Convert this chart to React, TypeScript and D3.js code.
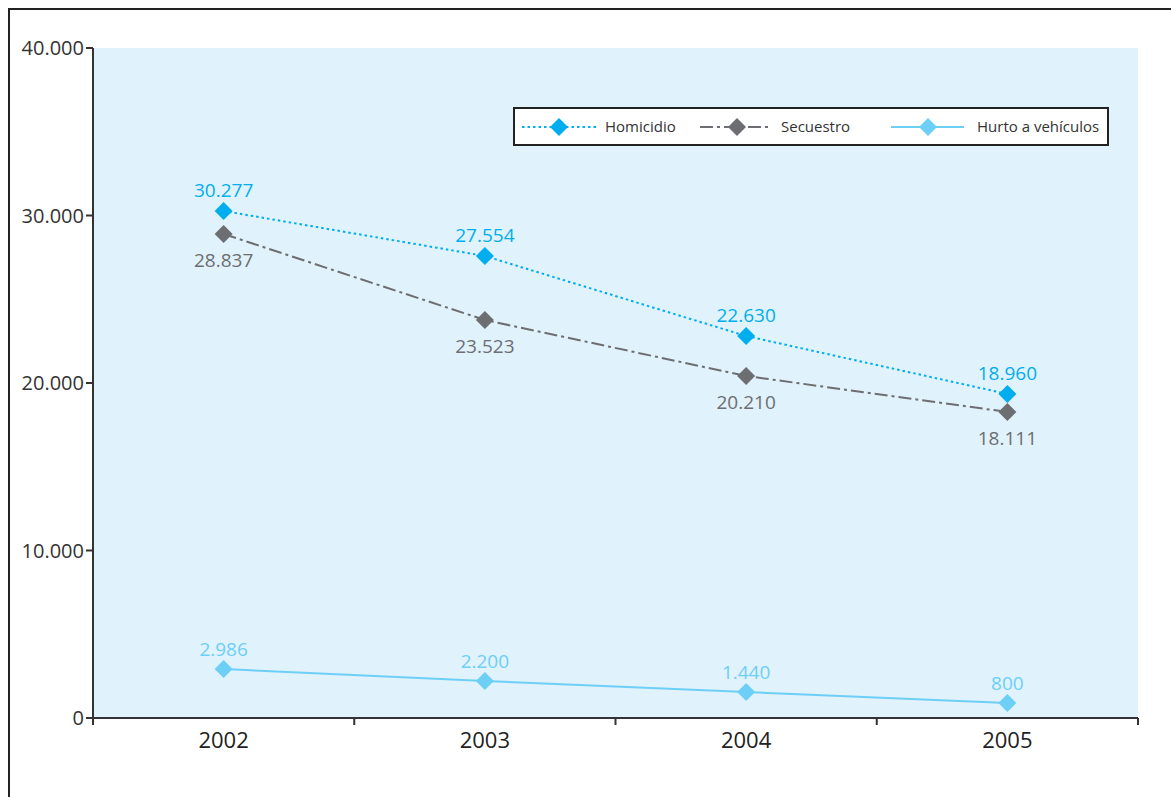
import React from "react";
import * as d3 from "d3";

const years = ["2002", "2003", "2004", "2005"];
const homicidio = [30269, 27582, 22806, 19343];
const secuestro = [28896, 23761, 20418, 18269];
const hurto = [2925, 2209, 1552, 896];
const homicidioLabels = ["30.277", "27.554", "22.630", "18.960"];
const secuestroLabels = ["28.837", "23.523", "20.210", "18.111"];
const hurtoLabels = ["2.986", "2.200", "1.440", "800"];
const yTicks = [0, 10000, 20000, 30000, 40000];
const yTickLabels = ["0", "10.000", "20.000", "30.000", "40.000"];

const FONT = "'Open Sans', 'DejaVu Sans', sans-serif";
const C_HOM = "#00AEEF";
const C_SEC = "#6D6E71";
const C_HUR = "#6DCFF6";

export default function App() {
  const W = 1171, H = 797;
  const left = 93, right = 1138, top = 48, bottom = 718;
  const x = d3.scaleBand().domain(years).range([left, right]);
  const y = d3.scaleLinear().domain([0, 40000]).range([bottom, top]);
  const cx = (i: number) => (x(years[i]) as number) + x.bandwidth() / 2;
  const line = d3.line<number>().x((_, i) => cx(i)).y((d) => y(d));
  const diamond = (px: number, py: number, r = 9) =>
    `M${px},${py - r}L${px + r},${py}L${px},${py + r}L${px - r},${py}Z`;

  const series = [
    { data: homicidio, labels: homicidioLabels, color: C_HOM, dash: "2.5,3", width: 2, labelDy: -14, name: "Homicidio" },
    { data: secuestro, labels: secuestroLabels, color: C_SEC, dash: "13,4,3,4", width: 2, labelDy: 33, name: "Secuestro" },
    { data: hurto, labels: hurtoLabels, color: C_HUR, dash: "none", width: 2, labelDy: -13, name: "Hurto a vehículos" },
  ];

  const boundaries = [left, ...years.map((yr) => (x(yr) as number) + x.bandwidth())];

  const legendItems = [
    { s: series[0], x1: 522, x2: 597, mx: 559, tx: 605 },
    { s: series[1], x1: 700, x2: 771, mx: 737, tx: 781 },
    { s: series[2], x1: 891, x2: 964, mx: 928, tx: 977 },
  ];
  const ly = 127;

  return (
    <svg width={W} height={H} style={{ position: "absolute", left: 0, top: 0 }} fontFamily={FONT}>
      <rect x={0} y={0} width={W} height={H} fill="#fff" />
      <rect x={9} y={9} width={W + 20} height={H + 20} fill="none" stroke="#222" strokeWidth={2} />
      <rect x={left} y={top} width={right - left} height={bottom - top} fill="#E0F2FC" />

      {/* y axis */}
      <line x1={left} y1={top} x2={left} y2={bottom} stroke="#333" strokeWidth={2} />
      {yTicks.map((t, i) => (
        <g key={t}>
          <line x1={left - 7} x2={left} y1={y(t)} y2={y(t)} stroke="#333" strokeWidth={2} />
          <text x={left - 9} y={y(t)} dy="0.35em" textAnchor="end" fontSize={20} fill="#333">
            {yTickLabels[i]}
          </text>
        </g>
      ))}

      {/* x axis */}
      <line x1={left} y1={bottom} x2={right} y2={bottom} stroke="#333" strokeWidth={2} />
      {boundaries.map((bx, i) => (
        <line key={i} x1={bx} x2={bx} y1={bottom} y2={bottom + 7} stroke="#333" strokeWidth={2} />
      ))}
      {years.map((yr, i) => (
        <text key={yr} x={cx(i)} y={bottom + 22} dy="0.35em" textAnchor="middle" fontSize={22} fill="#222">
          {yr}
        </text>
      ))}

      {/* series */}
      {series.map((s) => (
        <g key={s.name}>
          <path d={line(s.data) as string} fill="none" stroke={s.color} strokeWidth={s.width} strokeDasharray={s.dash} />
          {s.data.map((v, i) => (
            <path key={i} d={diamond(cx(i), y(v))} fill={s.color} />
          ))}
          {s.data.map((v, i) => (
            <text key={"l" + i} x={cx(i)} y={y(v) + s.labelDy} textAnchor="middle" fontSize={19} fill={s.color}>
              {s.labels[i]}
            </text>
          ))}
        </g>
      ))}

      {/* legend */}
      <rect x={514} y={108} width={594} height={37} fill="#fff" stroke="#222" strokeWidth={2} />
      {legendItems.map((it) => (
        <g key={it.s.name}>
          <line x1={it.x1} x2={it.x2} y1={ly} y2={ly} stroke={it.s.color} strokeWidth={2} strokeDasharray={it.s.dash} />
          <path d={diamond(it.mx, ly, 9)} fill={it.s.color} />
          <text x={it.tx} y={ly} dy="0.35em" fontSize={15} fill="#333">
            {it.s.name}
          </text>
        </g>
      ))}
    </svg>
  );
}
